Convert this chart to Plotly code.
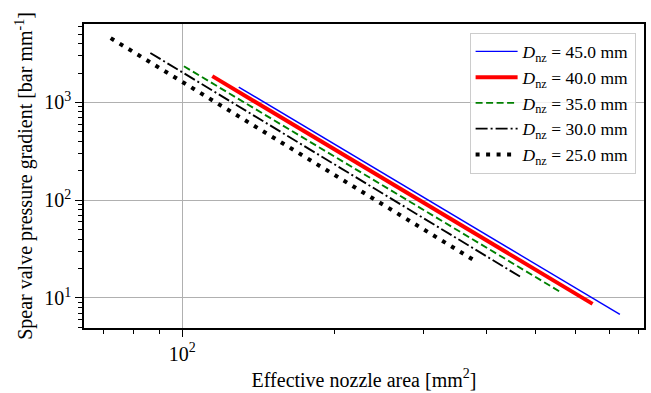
import plotly.graph_objects as go

# ---- data ----
diameters = ["45.0", "40.0", "35.0", "30.0", "25.0"]          # D_nz [mm]
area_start = [129.4, 114.7, 100.8, 86.5, 72.2]                # effective nozzle area [mm^2]
area_end = [735.0, 649.0, 557.8, 466.8, 384.9]
grad_start = [1439.0, 1860.0, 2350.0, 3211.0, 4556.0]         # pressure gradient [bar/mm]
grad_end = [6.79, 8.70, 11.7, 16.5, 23.0]

x_ticks = [100]
x_ticktext = ["10<sup>2</sup>"]
y_ticks = [10, 100, 1000]
y_ticktext = ["10<sup>1</sup>", "10<sup>2</sup>", "10<sup>3</sup>"]
x_minor = [70, 80, 90, 200, 300, 400, 500, 600, 700, 800]
y_minor = [5, 6, 7, 8, 9, 20, 30, 40, 50, 60, 70, 80, 90,
           200, 300, 400, 500, 600, 700, 800, 900, 2000, 3000, 4000, 5000, 6000]

# ---- styles ----
colors = ["#0000ff", "#ff0000", "#008000", "#000000", "#000000"]
widths = [1.4, 4.0, 1.9, 1.9, 4.0]
dashes = ["solid", "solid", "7px,3.5px", "12px,3px,2px,3px", "4px,6.5px"]

FONT = "Liberation Serif, Times New Roman, serif"

fig = go.Figure()
for i, d in enumerate(diameters):
    fig.add_trace(go.Scatter(
        x=[area_start[i], area_end[i]],
        y=[grad_start[i], grad_end[i]],
        mode="lines",
        line=dict(color=colors[i], width=widths[i], dash=dashes[i]),
        name="<i>D</i><sub>nz</sub> = " + d + " mm",
    ))

axis_common = dict(
    showline=True, linecolor="black", linewidth=1.6, mirror=True,
    ticks="outside", ticklen=7, tickwidth=1.3, tickcolor="black",
    showgrid=True, gridcolor="#b0b0b0", gridwidth=1.2,
    zeroline=False,
    tickfont=dict(family=FONT, size=20, color="black"),
    tickmode="array",
)

fig.update_xaxes(
    type="log", range=[1.8057, 2.914],
    tickvals=x_ticks, ticktext=x_ticktext,
    minor=dict(tickmode="array", tickvals=x_minor, ticks="outside", ticklen=4,
               tickwidth=1.1, tickcolor="black", showgrid=False),
    title=dict(text="Effective nozzle area [mm<sup>2</sup>]",
               font=dict(family=FONT, size=20, color="black"), standoff=9),
    **axis_common,
)
fig.update_yaxes(
    type="log", range=[0.693, 3.803],
    tickvals=y_ticks, ticktext=y_ticktext,
    minor=dict(tickmode="array", tickvals=y_minor, ticks="outside", ticklen=4,
               tickwidth=1.1, tickcolor="black", showgrid=False),
    title=dict(text="Spear valve pressure gradient [bar mm<sup>-1</sup>]",
               font=dict(family=FONT, size=20, color="black"), standoff=6),
    **axis_common,
)

fig.update_layout(
    width=651, height=393,
    margin=dict(l=84, r=5, t=24, b=62),
    paper_bgcolor="white", plot_bgcolor="white",
    font=dict(family=FONT, size=17.5, color="black"),
    showlegend=True,
    legend=dict(
        x=0.985, y=0.972, xanchor="right", yanchor="top",
        bgcolor="rgba(255,255,255,0.8)", bordercolor="#cccccc", borderwidth=1,
        font=dict(family=FONT, size=17.5, color="black"),
        itemwidth=42,
    ),
)

fig.write_html("out.html")
